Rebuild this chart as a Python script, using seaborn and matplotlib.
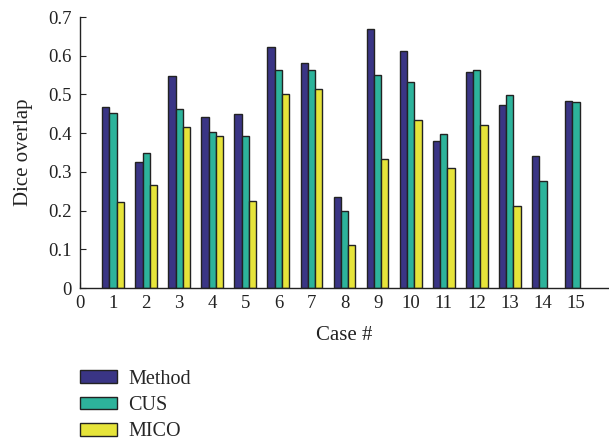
import matplotlib
matplotlib.use("Agg")
import matplotlib.pyplot as plt
import seaborn as sns
import numpy as np
import pandas as pd

cases = list(range(1, 16))
method = [0.468, 0.325, 0.547, 0.443, 0.450, 0.622, 0.580, 0.234, 0.670, 0.612, 0.379, 0.559, 0.472, 0.341, 0.483]
cus = [0.451, 0.350, 0.463, 0.402, 0.393, 0.563, 0.562, 0.198, 0.551, 0.531, 0.397, 0.562, 0.499, 0.277, 0.481]
mico = [0.222, 0.266, 0.416, 0.393, 0.224, 0.502, 0.514, 0.111, 0.333, 0.435, 0.310, 0.421, 0.212, np.nan, np.nan]
series_names = ["Method", "CUS", "MICO"]
colors = ["#3A3585", "#2DB39B", "#E6E43A"]
x_ticks = list(range(0, 16))
y_ticks = [0, 0.1, 0.2, 0.3, 0.4, 0.5, 0.6, 0.7]
y_tick_labels = ["0", "0.1", "0.2", "0.3", "0.4", "0.5", "0.6", "0.7"]

rows = []
for name, vals in zip(series_names, [method, cus, mico]):
    for c, v in zip(cases, vals):
        if not np.isnan(v):
            rows.append({"case": c, "value": v, "series": name})
df = pd.DataFrame(rows)

sns.set_style("ticks")
plt.rcParams["font.family"] = ["Liberation Serif", "DejaVu Serif"]

fig = plt.figure(figsize=(6.09, 4.42), dpi=100)
ax = fig.add_axes([0.1314, 0.3484, 0.8686, 0.6131])

sns.barplot(data=df, x="case", y="value", hue="series", hue_order=series_names,
            palette=colors, native_scale=True, width=0.66, dodge=True,
            edgecolor="#222222", linewidth=1.0, saturation=1, ax=ax, legend=True)

ax.set_xlim(0, 16)
ax.set_ylim(0, 0.7)
ax.set_xticks(x_ticks)
ax.set_xticklabels([str(t) for t in x_ticks])
ax.set_yticks(y_ticks)
ax.set_yticklabels(y_tick_labels)
ax.tick_params(direction="in", labelsize=13.5, length=4, width=0.8, colors="#222222")
ax.tick_params(axis="x", pad=5)
ax.tick_params(axis="y", pad=6)
for s in ["top", "right"]:
    ax.spines[s].set_visible(False)
for s in ["left", "bottom"]:
    ax.spines[s].set_linewidth(1.0)
    ax.spines[s].set_color("#222222")

ax.set_xlabel("Case #", fontsize=15, color="#222222", labelpad=10)
ax.set_ylabel("Dice overlap", fontsize=15, color="#222222", labelpad=11)

sns.move_legend(ax, loc="upper left", bbox_to_anchor=(0.1314, 0.163),
                bbox_transform=fig.transFigure, frameon=False, title=None,
                fontsize=14.5, handlelength=1.84, handleheight=0.6,
                labelspacing=0.36, handletextpad=0.55, borderaxespad=0,
                borderpad=0)

fig.savefig("out.png", dpi=100)
